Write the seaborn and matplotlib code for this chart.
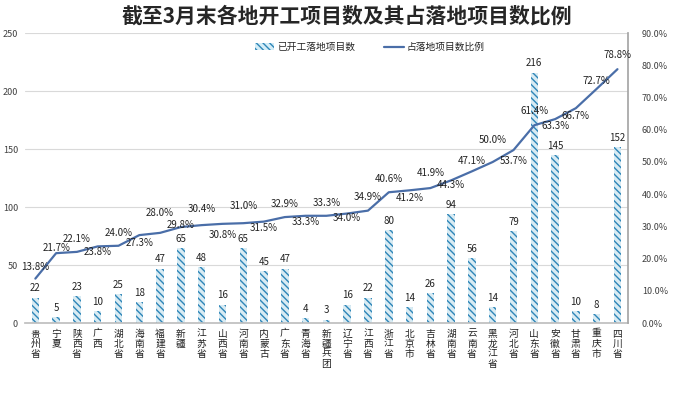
import numpy as np
import pandas as pd
import matplotlib
matplotlib.use('Agg')
import matplotlib.pyplot as plt
import seaborn as sns
from matplotlib.patches import Patch
from matplotlib.lines import Line2D
from matplotlib.ticker import FuncFormatter

#Chart data
provinces = ['贵州省', '宁夏', '陕西省', '广西', '湖北省', '海南省', '福建省', '新疆', '江苏省', '山西省',
             '河南省', '内蒙古', '广东省', '青海省', '新疆兵团', '辽宁省', '江西省', '浙江省', '北京市', '吉林省',
             '湖南省', '云南省', '黑龙江省', '河北省', '山东省', '安徽省', '甘肃省', '重庆市', '四川省']
started = [22, 5, 23, 10, 25, 18, 47, 65, 48, 16, 65, 45, 47, 4, 3, 16, 22, 80, 14, 26, 94, 56, 14, 79, 216, 145, 10, 8, 152]
ratio = [13.8, 21.7, 22.1, 23.8, 24.0, 27.3, 28.0, 29.8, 30.4, 30.8, 31.0, 31.5, 32.9, 33.3, 33.3, 34.0, 34.9,
         40.6, 41.2, 41.9, 44.3, 47.1, 50.0, 53.7, 61.4, 63.3, 66.7, 72.7, 78.8]
left_ticks = [0, 50, 100, 150, 200, 250]
right_ticks = [0, 10, 20, 30, 40, 50, 60, 70, 80, 90]

#Vertical offset (pixels) of each ratio label from its point, + is above
label_dy = [12, 5, 13, -6, 13, -8, 20, 2, 16, -11, 17, -6, 13, -6, 13, -4, 14,
            13, -8, 15, -5, 10, 22, -11, 14, -7, -8, 8, 14]

sns.set_theme(style='white')
plt.rcParams['font.family'] = ['Noto Sans CJK SC', 'DejaVu Sans']
plt.rcParams['hatch.linewidth'] = 1.0

df = pd.DataFrame({'province': provinces, 'started': started, 'ratio': ratio})
df['pos'] = np.arange(len(df))

fig = plt.figure(figsize=(6.93, 3.94), dpi=100)
ax = fig.add_axes([0.036, 0.180, 0.870, 0.736])

sns.barplot(data=df, x='province', y='started', ax=ax, color='#d4edf7', width=0.36,
            edgecolor='#2f86b8', linewidth=0, zorder=2)
for p in ax.patches:
    p.set_hatch('\\\\\\\\\\')
ax.bar_label(ax.containers[0], fontsize=7, padding=3, color='#222222')

ax.set_ylim(0, 250)
ax.set_yticks(left_ticks)
ax.set_xlim(-0.5, len(df) - 0.5)
ax.grid(axis='y', color='#d9d9d9', linewidth=0.8, zorder=0)
ax.set_xlabel('')
ax.set_ylabel('')
ax.set_xticks(df['pos'])
ax.set_xticklabels(['\n'.join(p) for p in provinces], fontsize=7, linespacing=1.0, va='top')
ax.tick_params(axis='y', labelsize=6.5, colors='#404040', length=0, pad=5)
ax.tick_params(axis='x', length=0, pad=4, colors='#222222')
for s in ['left', 'top', 'right']:
    ax.spines[s].set_visible(False)
ax.spines['bottom'].set_color('#bfbfbf')

ax2 = ax.twinx()
sns.lineplot(data=df, x='pos', y='ratio', ax=ax2, color='#4a6ea8', linewidth=1.6, zorder=3)
ax2.set_ylim(0, 90)
ax2.set_yticks(right_ticks)
ax2.yaxis.set_major_formatter(FuncFormatter(lambda v, _: f'{v:.1f}%'))
ax2.tick_params(axis='y', labelsize=6.5, colors='#404040', length=0, pad=10)
ax2.set_ylabel('')
ax2.set_xlabel('')
for s in ['left', 'top', 'bottom']:
    ax2.spines[s].set_visible(False)
ax2.spines['right'].set_color('#a6a6a6')

for i, (r, dy) in enumerate(zip(ratio, label_dy)):
    ax2.annotate(f'{r:.1f}%', (i, r), xytext=(0, dy * 0.72), textcoords='offset points',
                 ha='center', va='center', fontsize=7, color='#222222')

handles = [Patch(facecolor='#d4edf7', edgecolor='#2f86b8', hatch='\\\\\\\\\\', linewidth=0),
           Line2D([0], [0], color='#4a6ea8', linewidth=1.6)]
ax.legend(handles, ['已开工落地项目数', '占落地项目数比例'], loc='upper center', bbox_to_anchor=(0.572, 1.0),
          ncol=2, frameon=False, fontsize=7, handlelength=2.0, handletextpad=0.3,
          columnspacing=3.0, handleheight=0.6)

fig.suptitle('截至3月末各地开工项目数及其占落地项目数比例', fontsize=15, fontweight='bold', y=0.985, x=0.5)

fig.savefig('out.png', dpi=100)
